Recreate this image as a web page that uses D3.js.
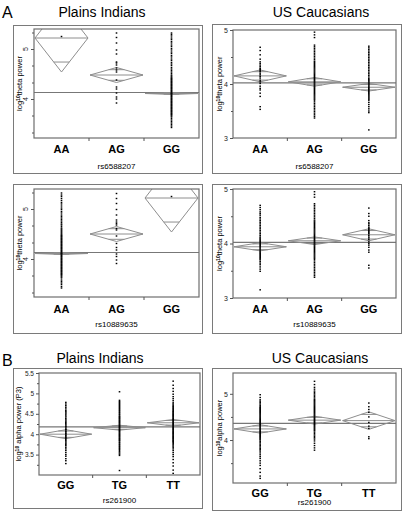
<!DOCTYPE html>
<html><head><meta charset="utf-8">
<script src="https://cdn.jsdelivr.net/npm/d3@7"></script>
<style>body{margin:0;background:#fff;} svg{display:block;font-family:"Liberation Sans",Arial,sans-serif;}</style>
</head><body><svg id="c" width="404" height="511"></svg>
<script>
// ---------- DATA ----------
const genoA = ["AA","AG","GG"];
const genoB = ["GG","TG","TT"];
const snpLabels = ["rs6588207","rs10889635","rs261900"];
const popLabels = ["Plains Indians","US Caucasians"];

// Panel A1 left: Plains Indians, rs6588207, log10 theta power
const A1L_AA = [5.25];
const A1L_AG = [5.32,5.23,5.12,4.98,4.9,4.74,4.72,4.68,4.62,4.58,4.54,4.38,4.24,4.2,4.12,4.04,4.0,3.92];
const A1L_GG = [5.32,5.29,5.26,5.22,5.19,5.15,5.12,5.08,5.05,5.01,4.98,4.94,4.91,4.87,4.84,4.8,4.77,4.73,4.7,4.67,4.63,4.6,4.57,4.54,4.51,4.48,4.46,4.44,4.42,4.41,4.39,4.38,4.36,4.35,4.33,4.32,4.3,4.29,4.27,4.26,4.24,4.23,4.21,4.2,4.18,4.17,4.15,4.14,4.12,4.11,4.1,4.08,4.07,4.05,4.04,4.02,4.01,3.99,3.98,3.96,3.95,3.93,3.92,3.9,3.89,3.87,3.86,3.84,3.83,3.81,3.8,3.78,3.77,3.75,3.74,3.72,3.71,3.69,3.68,3.66,3.64,3.61,3.58,3.55,3.52,3.49,3.46,3.43];
const A1L_means = [5.22,4.48,4.11], A1L_ci = [0.68,0.15,0.02], A1L_grand = 4.13;

// Panel A2 left: Plains Indians, rs10889635
const A2L_AA = [5.32,5.28,5.25,5.21,5.17,5.13,5.1,5.06,5.02,4.99,4.95,4.92,4.88,4.85,4.82,4.79,4.76,4.73,4.7,4.68,4.65,4.62,4.6,4.58,4.56,4.54,4.52,4.5,4.48,4.47,4.45,4.44,4.42,4.41,4.39,4.38,4.36,4.35,4.33,4.32,4.3,4.29,4.27,4.26,4.24,4.23,4.21,4.2,4.18,4.17,4.15,4.14,4.12,4.11,4.1,4.08,4.07,4.05,4.04,4.02,4.01,3.99,3.98,3.96,3.95,3.93,3.92,3.9,3.89,3.87,3.86,3.84,3.83,3.81,3.8,3.78,3.77,3.75,3.74,3.72,3.71,3.69,3.68,3.66,3.64,3.62,3.58,3.55,3.52,3.49,3.45,3.42];
const A2L_AG = [5.31,5.21,5.11,4.99,4.88,4.78,4.74,4.71,4.68,4.61,4.58,4.46,4.31,4.23,4.18,4.1,4.05,3.98,3.91];
const A2L_GG = [5.25];
const A2L_means = [4.11,4.5,5.22], A2L_ci = [0.02,0.15,0.68], A2L_grand = 4.13;

// Panel A1 right: US Caucasians, rs6588207
const A1R_AA = [4.68,4.62,4.54,4.46,4.41,4.38,4.35,4.32,4.29,4.27,4.25,4.23,4.2,4.17,4.14,4.11,4.07,4.04,4.01,3.96,3.92,3.89,3.83,3.77,3.58,3.53];
const A1R_AG = [4.96,4.91,4.86,4.72,4.69,4.66,4.63,4.6,4.57,4.54,4.51,4.48,4.45,4.42,4.4,4.38,4.36,4.34,4.32,4.3,4.28,4.26,4.24,4.22,4.2,4.18,4.16,4.14,4.12,4.1,4.08,4.06,4.04,4.02,4.0,3.98,3.96,3.94,3.92,3.9,3.88,3.86,3.84,3.82,3.8,3.78,3.76,3.74,3.72,3.7,3.67,3.64,3.61,3.58,3.55,3.52,3.49,3.46,3.43,3.4,3.37];
const A1R_GG = [4.7,4.67,4.64,4.61,4.58,4.55,4.52,4.49,4.46,4.43,4.4,4.37,4.34,4.31,4.28,4.25,4.22,4.19,4.16,4.13,4.1,4.08,4.06,4.04,4.02,4.0,3.98,3.96,3.94,3.92,3.9,3.88,3.86,3.84,3.82,3.8,3.78,3.76,3.74,3.72,3.7,3.66,3.62,3.58,3.54,3.5,3.47,3.15];
const A1R_means = [4.15,4.04,3.94], A1R_ci = [0.11,0.08,0.07], A1R_grand = 4.02;

// Panel A2 right: US Caucasians, rs10889635
const A2R_AA = [4.7,4.66,4.62,4.58,4.55,4.52,4.48,4.45,4.42,4.39,4.36,4.33,4.3,4.27,4.24,4.21,4.18,4.15,4.12,4.1,4.08,4.06,4.04,4.02,4.0,3.98,3.96,3.94,3.92,3.9,3.88,3.86,3.84,3.82,3.8,3.78,3.76,3.74,3.72,3.7,3.67,3.64,3.61,3.57,3.53,3.49,3.15];
const A2R_AG = [4.95,4.9,4.85,4.73,4.7,4.67,4.64,4.61,4.58,4.55,4.52,4.49,4.46,4.43,4.41,4.39,4.37,4.35,4.33,4.31,4.29,4.27,4.25,4.23,4.21,4.19,4.17,4.15,4.13,4.11,4.09,4.07,4.05,4.03,4.01,3.99,3.97,3.95,3.93,3.91,3.89,3.87,3.85,3.83,3.81,3.79,3.77,3.75,3.73,3.71,3.68,3.65,3.62,3.59,3.56,3.53,3.5,3.47,3.44,3.41,3.38];
const A2R_GG = [4.65,4.55,4.5,4.42,4.38,4.36,4.33,4.3,4.28,4.26,4.24,4.22,4.2,4.18,4.15,4.12,4.1,4.07,4.03,4.0,3.97,3.93,3.88,3.84,3.6,3.55];
const A2R_means = [3.94,4.05,4.16], A2R_ci = [0.075,0.07,0.11], A2R_grand = 4.02;

// Panel B left: Plains Indians, rs261900, log10 alpha power (P3)
const BL_GG = [4.78,4.74,4.7,4.66,4.62,4.58,4.55,4.52,4.49,4.45,4.42,4.38,4.35,4.32,4.29,4.26,4.23,4.2,4.18,4.15,4.12,4.1,4.07,4.05,4.02,4.0,3.97,3.95,3.92,3.9,3.87,3.84,3.81,3.78,3.75,3.72,3.68,3.64,3.6,3.55,3.5,3.46,3.4,3.35,3.28];
const BL_TG = [5.04,4.83,4.8,4.78,4.75,4.73,4.7,4.68,4.65,4.63,4.6,4.58,4.55,4.53,4.5,4.48,4.45,4.43,4.41,4.39,4.37,4.35,4.33,4.31,4.29,4.27,4.25,4.23,4.21,4.19,4.17,4.15,4.13,4.11,4.09,4.07,4.05,4.03,4.01,3.99,3.97,3.95,3.93,3.91,3.89,3.87,3.85,3.83,3.8,3.78,3.75,3.73,3.7,3.68,3.65,3.63,3.6,3.57,3.54,3.51,3.48,3.11];
const BL_TT = [5.3,5.2,5.12,5.05,4.98,4.92,4.87,4.82,4.77,4.74,4.71,4.68,4.66,4.63,4.61,4.58,4.56,4.54,4.52,4.5,4.48,4.46,4.44,4.42,4.4,4.38,4.36,4.34,4.32,4.3,4.28,4.26,4.24,4.22,4.2,4.18,4.16,4.14,4.12,4.1,4.08,4.06,4.04,4.02,4.0,3.98,3.96,3.94,3.92,3.9,3.88,3.86,3.84,3.82,3.8,3.77,3.74,3.71,3.68,3.64,3.6,3.55,3.5,3.45,3.38,3.3,3.22,3.12,3.04];
const BL_means = [4.0,4.16,4.28], BL_ci = [0.11,0.06,0.08], BL_grand = 4.18;

// Panel B right: US Caucasians, rs261900, log10 alpha power
const BR_GG = [4.98,4.92,4.87,4.84,4.81,4.78,4.75,4.72,4.7,4.68,4.66,4.64,4.62,4.6,4.58,4.56,4.54,4.52,4.5,4.48,4.46,4.44,4.42,4.4,4.38,4.36,4.34,4.32,4.3,4.28,4.26,4.24,4.22,4.2,4.18,4.16,4.14,4.12,4.1,4.08,4.06,4.04,4.02,4.0,3.97,3.94,3.91,3.88,3.85,3.82,3.79,3.76,3.72,3.68,3.64,3.6,3.55,3.5,3.45,3.38,3.3,3.22,3.17];
const BR_TG = [5.27,5.2,5.14,5.1,5.06,5.03,5.0,4.97,4.94,4.91,4.88,4.86,4.84,4.82,4.8,4.78,4.76,4.74,4.72,4.7,4.68,4.66,4.64,4.62,4.6,4.58,4.56,4.54,4.52,4.5,4.48,4.46,4.44,4.42,4.4,4.38,4.36,4.34,4.32,4.3,4.28,4.26,4.24,4.22,4.2,4.17,4.14,4.11,4.08,4.05,4.02,3.98,3.93,3.88,3.83,3.78];
const BR_TT = [4.8,4.72,4.66,4.6,4.5,4.38,4.3,4.25,4.07,4.03];
const BR_means = [4.24,4.43,4.42], BR_ci = [0.09,0.085,0.19], BR_grand = 4.36;

// axis ticks
const ticksA_left = [4,5], minorA_left = [3.33,3.67,4.33,4.67,5.33];
const ticksA_right = [3,4,5], minorA_right = [3.5,4.5];
const ticksB_left = [3.5,4,4.5,5,5.5], minorB_left = [3.25,3.75,4.25,4.75,5.25];
const ticksB_right = [4,5], minorB_right = [3.5,4.5];

// ---------- LAYOUT ----------
const panels = [
 {outer:[13,25,202,173], inner:[34,29,199,138], dom:[3.22,5.4], ticks:ticksA_left, minor:minorA_left, rot:true,
  cats:genoA, groups:[A1L_AA,A1L_AG,A1L_GG], means:A1L_means, ci:A1L_ci, grand:A1L_grand,
  ytitle:"theta power", xt:snpLabels[0], catY:153, xtY:169, ytX:22},
 {outer:[212,24,401,173], inner:[233,30,396,138], dom:[3,5], ticks:ticksA_right, minor:minorA_right, rot:false,
  cats:genoA, groups:[A1R_AA,A1R_AG,A1R_GG], means:A1R_means, ci:A1R_ci, grand:A1R_grand,
  ytitle:"theta power", xt:snpLabels[0], catY:153, xtY:169, ytX:222},
 {outer:[13,184,202,333], inner:[34,189,199,297], dom:[3.24,5.4], ticks:ticksA_left, minor:minorA_left, rot:true,
  cats:genoA, groups:[A2L_AA,A2L_AG,A2L_GG], means:A2L_means, ci:A2L_ci, grand:A2L_grand,
  ytitle:"theta power", xt:snpLabels[1], catY:313, xtY:327, ytX:22},
 {outer:[212,184,401,333], inner:[233,189,396,298], dom:[3,5], ticks:ticksA_right, minor:minorA_right, rot:false,
  cats:genoA, groups:[A2R_AA,A2R_AG,A2R_GG], means:A2R_means, ci:A2R_ci, grand:A2R_grand,
  ytitle:"theta power", xt:snpLabels[1], catY:313, xtY:327, ytX:222},
 {outer:[13,368,202,508], inner:[39,373,200,475], dom:[3.0,5.5], ticks:ticksB_left, minor:minorB_left, rot:false,
  cats:genoB, groups:[BL_GG,BL_TG,BL_TT], means:BL_means, ci:BL_ci, grand:BL_grand,
  ytitle:"alpha power (P3)", xt:snpLabels[2], catY:489, xtY:503, ytX:21, small:true},
 {outer:[212,368,401,510], inner:[233,373,396,483], dom:[3.07,5.45], ticks:ticksB_right, minor:minorB_right, rot:false,
  cats:genoB, groups:[BR_GG,BR_TG,BR_TT], means:BR_means, ci:BR_ci, grand:BR_grand,
  ytitle:"alpha power", xt:snpLabels[2], catY:497, xtY:505, ytX:222}
];

const svg = d3.select("#c");
const defs = svg.append("defs");

// panel letters & titles
svg.append("text").attr("x",2).attr("y",18).attr("font-size",16).text("A");
svg.append("text").attr("x",2).attr("y",366).attr("font-size",16).text("B");
[[102,17],[321,17],[100,363],[320,363]].forEach((p,i)=>{
  svg.append("text").attr("x",p[0]).attr("y",p[1]).attr("text-anchor","middle").attr("font-size",14).text(popLabels[i%2]);
});

panels.forEach((P,pi)=>{
  const g = svg.append("g");
  const [ox0,oy0,ox1,oy1] = P.outer, [ix0,iy0,ix1,iy1] = P.inner;
  g.append("rect").attr("x",ox0+0.5).attr("y",oy0+0.5).attr("width",ox1-ox0).attr("height",oy1-oy0)
    .attr("fill","none").attr("stroke","#7a7a7a").attr("stroke-width",1);
  const y = d3.scaleLinear().domain(P.dom).range([iy1,iy0]);
  const x = d3.scaleBand().domain(P.cats).range([ix0,ix1]);
  const cid = "clip"+pi;
  defs.append("clipPath").attr("id",cid).append("rect").attr("x",ix0).attr("y",iy0).attr("width",ix1-ix0).attr("height",iy1-iy0);
  const pl = g.append("g").attr("clip-path",`url(#${cid})`);
  // grand mean
  pl.append("line").attr("x1",ix0).attr("x2",ix1).attr("y1",y(P.grand)).attr("y2",y(P.grand))
    .attr("stroke","#777").attr("stroke-width",1.2);
  // diamonds
  P.cats.forEach((c,ci)=>{
    const m=P.means[ci], h=P.ci[ci];
    const xl=x(c)+1, xr=x(c)+x.bandwidth()-1, xc=(xl+xr)/2, hw=(xr-xl)/2;
    const col="#8e8e8e";
    pl.append("path").attr("d",`M${xl},${y(m)}L${xc},${y(m+h)}L${xr},${y(m)}L${xc},${y(m-h)}Z`)
      .attr("fill","none").attr("stroke",col).attr("stroke-width",1);
    pl.append("line").attr("x1",xl).attr("x2",xr).attr("y1",y(m)).attr("y2",y(m)).attr("stroke",col);
    const o=h/Math.SQRT2, ow=hw*(1-1/Math.SQRT2);
    [m+o,m-o].forEach(v=>pl.append("line").attr("x1",xc-ow).attr("x2",xc+ow).attr("y1",y(v)).attr("y2",y(v)).attr("stroke",col));
    // points
    pl.selectAll(null).data(P.groups[ci]).join("rect")
      .attr("x",x(c)+x.bandwidth()/2-0.8).attr("y",d=>y(d)-0.7).attr("width",1.6).attr("height",1.4).attr("fill","#000");
  });
  // inner frame
  g.append("rect").attr("x",ix0).attr("y",iy0).attr("width",ix1-ix0).attr("height",iy1-iy0)
    .attr("fill","none").attr("stroke","#6e6e6e").attr("stroke-width",1.2);
  // y axis (major)
  const ax = g.append("g").attr("transform",`translate(${ix0},0)`)
    .call(d3.axisLeft(y).tickValues(P.ticks).tickSize(3).tickPadding(2).tickFormat(P.rot?"":d3.format("")));
  ax.select(".domain").remove();
  ax.selectAll("line").attr("stroke","#555");
  ax.selectAll("text").attr("font-size",P.small?6.5:7).attr("fill","#222");
  if(P.rot){
    g.selectAll(null).data(P.ticks).join("text")
      .attr("transform",d=>`translate(${ix0-6},${y(d)}) rotate(-90)`)
      .attr("text-anchor","middle").attr("font-size",7).attr("fill","#222").text(d=>d);
  }
  const mx = g.append("g").attr("transform",`translate(${ix0},0)`)
    .call(d3.axisLeft(y).tickValues(P.minor).tickSize(2).tickFormat(""));
  mx.select(".domain").remove(); mx.selectAll("line").attr("stroke","#555");
  // x axis category boundary ticks
  const bounds = P.cats.slice(1).map(c=>x(c));
  g.selectAll(null).data(bounds).join("line").attr("x1",d=>d).attr("x2",d=>d).attr("y1",iy1).attr("y2",iy1+3).attr("stroke","#555");
  g.selectAll(null).data(P.cats).join("text").attr("x",d=>x(d)+x.bandwidth()/2).attr("y",P.catY)
    .attr("text-anchor","middle").attr("font-size",11).attr("font-weight","bold").text(d=>d);
  g.append("text").attr("x",(ix0+ix1)/2).attr("y",P.xtY).attr("text-anchor","middle")
    .attr("font-family","Liberation Sans Narrow, Arial Narrow, sans-serif").attr("font-size",8).text(P.xt);
  const yt = g.append("text").attr("transform",`translate(${P.ytX},${(iy0+iy1)/2}) rotate(-90)`)
    .attr("text-anchor","middle").attr("font-size",7.5);
  yt.append("tspan").text("log");
  yt.append("tspan").attr("font-size",5).attr("dy",-2.5).attr("font-weight","bold").text("10");
  yt.append("tspan").attr("dy",2.5).text((P.small?" ":"")+P.ytitle);
});
</script></body></html>
